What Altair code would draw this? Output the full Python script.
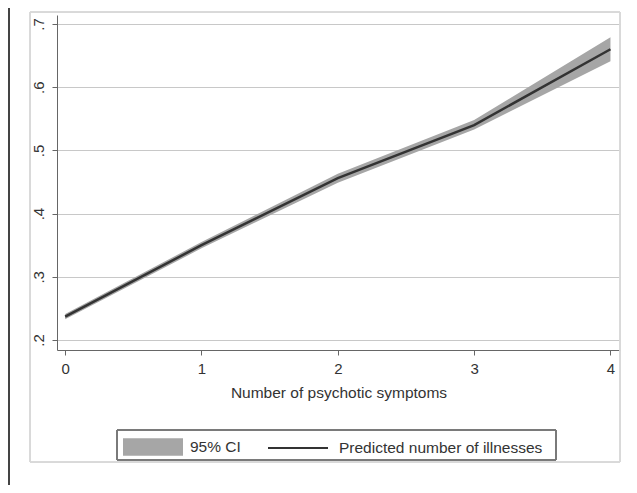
import altair as alt
import pandas as pd

symptoms = [0, 1, 2, 3, 4]
predicted = [0.237, 0.350, 0.456, 0.540, 0.660]
ci_low = [0.233, 0.345, 0.449, 0.533, 0.641]
ci_high = [0.241, 0.355, 0.463, 0.548, 0.679]
y_ticks = [0.2, 0.3, 0.4, 0.5, 0.6, 0.7]
x_ticks = [0, 1, 2, 3, 4]

df = pd.DataFrame({
    "x": symptoms, "pred": predicted, "lo": ci_low, "hi": ci_high,
    "ci": "95% CI", "line": "Predicted number of illnesses",
})

FONT = "Liberation Sans"

xs = alt.Scale(domain=[-0.06, 4.07], nice=False, zero=False)
ys = alt.Scale(domain=[0.1842, 0.7142], nice=False, zero=False)

xaxis = alt.Axis(values=x_ticks, format="d", grid=False, title="Number of psychotic symptoms",
                 labelFont=FONT, labelFontSize=15, labelColor="#333", labelPadding=6,
                 titleFont=FONT, titleFontSize=15.5, titleFontWeight="normal", titleColor="#333",
                 titlePadding=9, domainColor="#666", tickColor="#666", tickSize=5)
yaxis = alt.Axis(values=y_ticks, grid=True, gridColor="#c8c8c8", gridWidth=1, title=None,
                 labelExpr="slice(format(datum.value, '.1f'), 1)", labelAngle=270,
                 labelAlign="center", labelBaseline="bottom",
                 labelFont=FONT, labelFontSize=15, labelColor="#333", labelPadding=6,
                 domainColor="#666", tickColor="#666", tickSize=5)

area = alt.Chart(df).mark_area(opacity=1).encode(
    x=alt.X("x:Q", scale=xs, axis=xaxis),
    y=alt.Y("lo:Q", scale=ys, axis=yaxis),
    y2="hi:Q",
    fill=alt.Fill("ci:N", scale=alt.Scale(range=["#a6a6a6"]),
                  legend=alt.Legend(title=None, orient="none", legendX=66, legendY=402,
                                    symbolType="M-1,-0.29H1V0.29H-1Z", symbolSize=3600,
                                    symbolStrokeWidth=0, symbolOpacity=1,
                                    labelFont=FONT, labelFontSize=15.5, labelColor="#333",
                                    labelOffset=7, labelLimit=300, padding=0)),
)

line = alt.Chart(df).mark_line(strokeWidth=2.5).encode(
    x=alt.X("x:Q", scale=xs),
    y=alt.Y("pred:Q", scale=ys),
    stroke=alt.Stroke("line:N", scale=alt.Scale(range=["#333333"]),
                      legend=alt.Legend(title=None, orient="none", legendX=210, legendY=402,
                                        symbolType="stroke", symbolSize=3600,
                                        symbolStrokeWidth=2,
                                        labelFont=FONT, labelFontSize=15.5, labelColor="#333",
                                        labelOffset=10, labelLimit=300, padding=0)),
)

frame = alt.Chart(df).mark_rect(fill=None, stroke="#d8d8d8", strokeWidth=1).encode(
    x=alt.value(-27), x2=alt.value(563), y=alt.value(-3), y2=alt.value(447))
legend_box = alt.Chart(df).mark_rect(fill=None, stroke="#777", strokeWidth=1).encode(
    x=alt.value(60), x2=alt.value(499), y=alt.value(415), y2=alt.value(445))
left_rule = alt.Chart(df).mark_rule(stroke="#444", strokeWidth=2).encode(
    x=alt.value(-48), y=alt.value(-7), y2=alt.value(478))

chart = alt.layer(frame, legend_box, left_rule, area, line).properties(
    width=563, height=335,
    autosize=alt.AutoSizeParams(type="none"),
    padding={"left": 49, "top": 7, "right": 2, "bottom": 135},
).configure_view(stroke=None)

chart.save("out.html", embed_options={"renderer": "svg", "actions": False})
